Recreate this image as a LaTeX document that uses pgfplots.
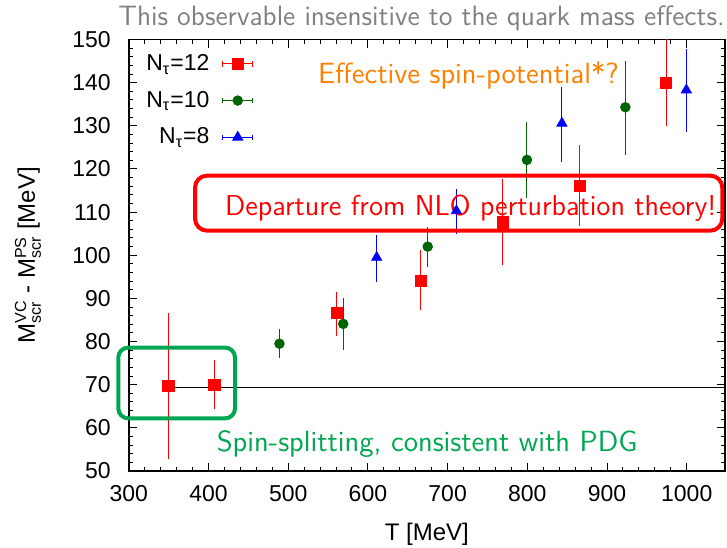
\documentclass[border=0pt]{standalone}
\usepackage{fontspec}
\setmainfont{Liberation Sans}
\usepackage{amsmath}
\usepackage{pgfplots}
\pgfplotsset{compat=1.18}
\usepackage{pgfplotstable}
\definecolor{dgreen}{RGB}{0,100,0}
\definecolor{anngreen}{RGB}{0,166,81}
\definecolor{annorange}{RGB}{255,128,0}
\definecolor{titlegray}{RGB}{128,128,128}

\pgfplotstableread{
x y ep em
349.6 69.8 16.2 16.5
407.3 70.0 5.1 5.0
561 86.6 4.3 4.7
666 94.1 6.5 6.3
769 107.6 9.5 9.2
865.5 116.1 8.8 8.7
974 139.9 9.7 9.3
}\nttwelve

\pgfplotstableread{
x y ep em
489 79.5 2.7 2.7
569 84.1 5.3 5.4
675 102.0 4.0 4.1
799.5 122.1 8.2 8.3
923 134.3 10.2 10.5
}\ntten

\pgfplotstableread{
x y ep em
611 99.5 4.5 5.0
711 110.3 4.5 4.8
843.4 130.6 7.9 8.5
999.5 138.3 8.8 9.2
}\nteight

\begin{document}
\begin{tikzpicture}
\begin{axis}[
  name=ax, scale only axis, width=298.1pt, height=215.75pt,
  xmin=300, xmax=1048, ymin=50, ymax=150,
  xtick={300,400,...,1000}, ytick={50,60,...,150},
  minor x tick num=4, minor y tick num=4,
  tick align=inside, major tick length=4pt, minor tick length=2pt,
  axis line style={line width=0.8pt},
  tick style={line width=0.5pt, black},
  ticklabel style={font=\fontsize{11.5}{13}\selectfont},
  xticklabel style={yshift=-3.9pt},
  yticklabel style={xshift=-5.5pt},
  /pgf/number format/assume math mode=true,
  /pgf/number format/1000 sep={},
  xlabel={T [MeV]},
  ylabel={M$^{\text{VC}}_{\text{scr}}$ - M$^{\text{PS}}_{\text{scr}}$ [MeV]},
  label style={font=\fontsize{12}{14}\selectfont},
  xlabel style={at={(axis description cs:0.5,-0.146)}, anchor=center},
  ylabel style={at={(axis description cs:-0.169,0.5)}, anchor=center},
  clip=false,
  legend style={at={(axis description cs:0.012,0.985)}, anchor=north west,
    draw=none, fill=none, font=\fontsize{11.5}{13}\selectfont, row sep=4.8pt,
    legend cell align=right},
  legend plot pos=right,
  legend image code/.code={
    \path (0pt,0pt);
    \draw[mark=none, line width=0.5pt] (4.5pt,0pt) -- (19.5pt,0pt)
      (4.5pt,-1.3pt) -- (4.5pt,1.3pt) (19.5pt,-1.3pt) -- (19.5pt,1.3pt);
    \draw plot coordinates {(12pt,0pt)};
  },
]
\addplot[black, line width=0.75pt, forget plot] coordinates {(349.6,69.4) (1048,69.4)};

\addplot[only marks, mark=square*, mark size=2.8pt, color=red,
  error bars/.cd, y dir=both, y explicit,
  error bar style={line width=0.5pt},
  error mark options={mark size=1.3pt, line width=0.5pt}]
  table[x=x, y=y, y error plus=ep, y error minus=em]{\nttwelve};
\addlegendentry{N$_\text{τ}$=12}

\addplot[only marks, mark=*, mark size=2.4pt, color=dgreen,
  error bars/.cd, y dir=both, y explicit,
  error bar style={line width=0.5pt},
  error mark options={mark size=1.3pt, line width=0.5pt}]
  table[x=x, y=y, y error plus=ep, y error minus=em]{\ntten};
\addlegendentry{N$_\text{τ}$=10}

\addplot[only marks, mark=triangle*, mark size=2.9pt, color=blue,
  error bars/.cd, y dir=both, y explicit,
  error bar style={line width=0.5pt},
  error mark options={mark size=1.3pt, line width=0.5pt}]
  table[x=x, y=y, y error plus=ep, y error minus=em]{\nteight};
\addlegendentry{N$_\text{τ}$=8}

\draw[red, line width=2pt, rounded corners=6pt] (axis cs:383.1,105.7) rectangle (axis cs:1044.6,118.45);
\node[red, anchor=base, inner sep=0pt, font=\sffamily\fontsize{14.4}{16}\selectfont] at (axis cs:729,109.2) {Departure from NLO perturbation theory!};
\node[annorange, anchor=base, inner sep=0pt, font=\sffamily\fontsize{14.6}{16}\selectfont] at (axis cs:726.2,139.9) {Effective spin-potential*?};
\draw[anngreen, line width=2pt, rounded corners=5pt] (axis cs:286.8,62.2) rectangle (axis cs:433.3,78.6);
\node[anngreen, anchor=base, inner sep=0pt, font=\sffamily\fontsize{14.6}{16}\selectfont] at (axis cs:674.3,54.6) {Spin-splitting, consistent with PDG};
\node[titlegray, anchor=base west, inner sep=0pt, font=\sffamily\fontsize{14}{16}\selectfont] at (axis cs:286.5,153.3) {This observable insensitive to the quark mass effects.};
\end{axis}
\pgfresetboundingbox
\path[use as bounding box] ([xshift=-64.4pt,yshift=-38pt]ax.south west) rectangle ([xshift=1pt,yshift=19.75pt]ax.north east);
\end{tikzpicture}
\end{document}
